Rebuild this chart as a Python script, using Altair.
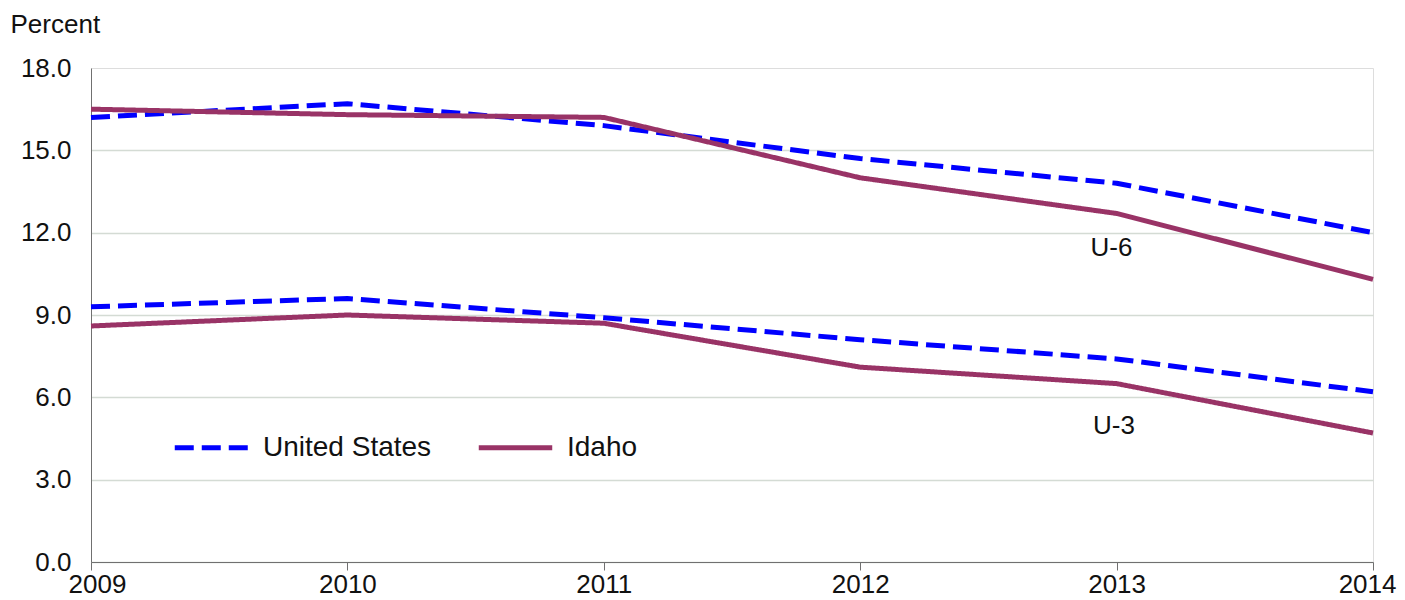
import altair as alt
import pandas as pd

years = [2009, 2010, 2011, 2012, 2013, 2014]
us_u6 = [16.2, 16.7, 15.9, 14.7, 13.8, 12.0]
id_u6 = [16.5, 16.3, 16.2, 14.0, 12.7, 10.3]
us_u3 = [9.3, 9.6, 8.9, 8.1, 7.4, 6.2]
id_u3 = [8.6, 9.0, 8.7, 7.1, 6.5, 4.7]
series_names = ["United States", "Idaho"]
series_colors = ["#0000ff", "#993366"]
series_dash = [[19, 8], [1, 0]]
y_ticks = [0, 3, 6, 9, 12, 15, 18]

label_text = ["U-6", "U-3"]
label_x = [2012.98, 2012.99]
label_y = [11.45, 4.95]

rows = []
for measure, us, idv in [("U-6", us_u6, id_u6), ("U-3", us_u3, id_u3)]:
    for yr, a, b in zip(years, us, idv):
        rows.append({"year": yr, "value": a, "series": "United States", "grp": measure + " US"})
        rows.append({"year": yr, "value": b, "series": "Idaho", "grp": measure + " ID"})
df = pd.DataFrame(rows)
lab = pd.DataFrame({"t": label_text, "x": label_x, "y": label_y})

FONT = "Liberation Sans"

x_enc = alt.X("year:Q", scale=alt.Scale(domain=[2009, 2014], nice=False, zero=False),
              axis=alt.Axis(values=years, format="d", title=None, grid=False,
                            labelFontSize=26, labelFont=FONT, labelColor="#111111",
                            tickSize=8, tickColor="#707070", domainColor="#707070",
                            labelPadding=1, labelFlush=True, labelFlushOffset=23))
y_enc = alt.Y("value:Q", scale=alt.Scale(domain=[0, 18], nice=False),
              axis=alt.Axis(values=y_ticks, format=".1f", title="Percent",
                            titleAngle=0, titleX=-81, titleY=-44, titleAlign="left",
                            titleBaseline="middle", titleFontSize=26, titleFont=FONT,
                            titleFontWeight="normal", titleColor="#111111",
                            labelFontSize=26, labelFont=FONT, labelColor="#111111",
                            ticks=False, labelPadding=20, domainColor="#707070",
                            gridColor=alt.expr("datum.value == 18 ? 'transparent' : '#d4dbd4'"),
                            gridWidth=1.5))

leg = alt.Legend(title=None, orient="none", legendX=81, legendY=340, direction="horizontal",
                 symbolType="stroke", symbolSize=5400, symbolStrokeWidth=5,
                 labelFontSize=28, labelFont=FONT, labelColor="#111111", labelLimit=0,
                 labelOffset=12, columnPadding=36, symbolOpacity=1)

lines = alt.Chart(df).mark_line(strokeWidth=5, interpolate="linear", strokeJoin="round").encode(
    x=x_enc,
    y=y_enc,
    color=alt.Color("series:N", scale=alt.Scale(domain=series_names, range=series_colors),
                    legend=leg, sort=series_names),
    strokeDash=alt.StrokeDash("series:N", scale=alt.Scale(domain=series_names, range=series_dash),
                              legend=leg, sort=series_names),
    detail="grp:N",
)

labels = alt.Chart(lab).mark_text(fontSize=26, font=FONT, color="#111111", align="center",
                                  baseline="middle").encode(
    x=alt.X("x:Q"), y=alt.Y("y:Q"), text="t:N")

chart = alt.layer(lines, labels).properties(
    width=1282, height=494,
    autosize=alt.AutoSizeParams(type="none"),
    padding={"left": 83, "top": 60, "right": 24, "bottom": 36},
).configure_view(stroke="#9a9a9a", strokeDash=[2, 2], strokeWidth=1.2
).configure(background="white")

chart.save("out.html", embed_options={"renderer": "svg", "actions": False})
